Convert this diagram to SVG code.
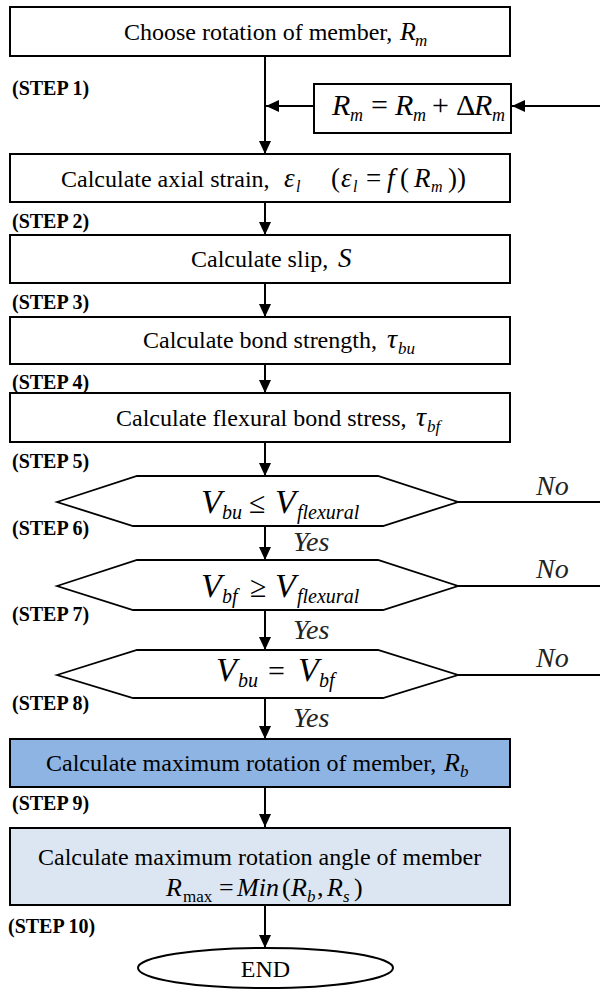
<svg xmlns="http://www.w3.org/2000/svg" width="600" height="989" viewBox="0 0 600 989">
<style>
.box{fill:#fff;stroke:#000;stroke-width:2}
.blue{fill:#8EB4E3;stroke:#000;stroke-width:2}
.light{fill:#DCE6F2;stroke:#000;stroke-width:2}
.t{font-family:"Liberation Serif","Times New Roman",serif;font-size:24px;fill:#000}
.step{font-family:"Liberation Serif","Times New Roman",serif;font-size:20px;font-weight:bold;fill:#000}
.m{font-family:"Liberation Serif","Times New Roman",serif;font-style:italic;fill:#000}
.r{font-style:normal}
.ln{fill:none;stroke:#000;stroke-width:2}
.hx{fill:#fff;stroke:#000;stroke-width:1.8}
.yn{font-family:"Liberation Serif","Times New Roman",serif;font-style:italic;font-size:28px;fill:#222}
</style>
<defs>
<marker id="ah" markerUnits="userSpaceOnUse" markerWidth="13" markerHeight="12" refX="13" refY="6" orient="auto">
<path d="M0,0 L13,6 L0,12 z" fill="#000"/>
</marker>
</defs>

<g id="connectors">
<line class="ln" x1="265" y1="56" x2="265" y2="154" marker-end="url(#ah)"/>
<line class="ln" x1="314" y1="106" x2="266" y2="106" marker-end="url(#ah)"/>
<line class="ln" x1="600" y1="106" x2="512" y2="106" marker-end="url(#ah)"/>
<line class="ln" x1="265" y1="202" x2="265" y2="235" marker-end="url(#ah)"/>
<line class="ln" x1="265" y1="283" x2="265" y2="317" marker-end="url(#ah)"/>
<line class="ln" x1="265" y1="364" x2="265" y2="393" marker-end="url(#ah)"/>
<line class="ln" x1="265" y1="442" x2="265" y2="476" marker-end="url(#ah)"/>
<line class="ln" x1="265" y1="526" x2="265" y2="560" marker-end="url(#ah)"/>
<line class="ln" x1="265" y1="610" x2="265" y2="650" marker-end="url(#ah)"/>
<line class="ln" x1="265" y1="698" x2="265" y2="739" marker-end="url(#ah)"/>
<line class="ln" x1="265" y1="787" x2="265" y2="827" marker-end="url(#ah)"/>
<line class="ln" x1="265" y1="905" x2="265" y2="948" marker-end="url(#ah)"/>
<line class="ln" x1="458" y1="502" x2="600" y2="502"/>
<line class="ln" x1="458" y1="586" x2="600" y2="586"/>
<line class="ln" x1="458" y1="675" x2="600" y2="675"/>
<text class="yn" x="536" y="495">No</text>
<text class="yn" x="536" y="578">No</text>
<text class="yn" x="536" y="667">No</text>
<text class="yn" x="293" y="551">Yes</text>
<text class="yn" x="293" y="639">Yes</text>
<text class="yn" x="293" y="727">Yes</text>
</g>

<g id="step1">
<rect class="box" x="10" y="7" width="500" height="49"/>
<text class="t" x="124" y="40">Choose rotation of member,<tspan class="m" x="400" font-size="26">R</tspan><tspan class="m" x="415" y="46" font-size="17">m</tspan></text>
<text class="step" x="12" y="95">(STEP 1)</text>
</g>

<g id="increment">
<rect class="box" x="314" y="84" width="197" height="49"/>
<text class="m" x="332" y="115" font-size="30">R<tspan x="350" y="121" font-size="18">m</tspan><tspan class="r" x="371" y="115">=</tspan><tspan x="395" y="115">R</tspan><tspan x="413" y="121" font-size="18">m</tspan><tspan class="r" x="432" y="115">+</tspan><tspan class="r" x="456" y="115">Δ</tspan><tspan x="474" y="115">R</tspan><tspan x="492" y="121" font-size="18">m</tspan></text>
</g>

<g id="step2">
<rect class="box" x="10" y="154" width="500" height="48"/>
<text class="t" x="61" y="187">Calculate axial strain,<tspan class="m" x="284" font-size="27">ε</tspan><tspan class="m" x="296" y="192" font-size="16">l</tspan><tspan x="331" y="187" font-size="27">(</tspan><tspan class="m" x="341" font-size="27">ε</tspan><tspan class="m" x="353" y="192" font-size="16">l</tspan><tspan x="366" y="187" font-size="27">=</tspan><tspan class="m" x="387" font-size="27">f</tspan><tspan x="400" font-size="27">(</tspan><tspan class="m" x="414" font-size="27">R</tspan><tspan class="m" x="431" y="192" font-size="16">m</tspan><tspan x="448" y="187" font-size="27">))</tspan></text>
<text class="step" x="12" y="228">(STEP 2)</text>
</g>

<g id="step3">
<rect class="box" x="10" y="235" width="500" height="48"/>
<text class="t" x="191" y="267">Calculate slip,<tspan class="m" x="338" font-size="27">S</tspan></text>
<text class="step" x="12" y="309">(STEP 3)</text>
</g>

<g id="step4">
<rect class="box" x="10" y="317" width="500" height="47"/>
<text class="t" x="143" y="348">Calculate bond strength,<tspan class="m" x="387" font-size="28">τ</tspan><tspan class="m" x="398" y="354" font-size="17">bu</tspan></text>
<text class="step" x="12" y="389">(STEP 4)</text>
</g>

<g id="step5">
<rect class="box" x="10" y="393" width="500" height="49"/>
<text class="t" x="116" y="426">Calculate flexural bond stress,<tspan class="m" x="416" font-size="28">τ</tspan><tspan class="m" x="427" y="432" font-size="17">bf</tspan></text>
<text class="step" x="12" y="468">(STEP 5)</text>
</g>

<g id="step6">
<polygon class="hx" points="57,502 137,476 378,476 458,502 383,526 133,526"/>
<text class="m" x="201" y="513" font-size="34">V<tspan x="222" y="519" font-size="20">bu</tspan><tspan class="r" x="249" y="513" font-size="30">≤</tspan><tspan x="275" y="513">V</tspan><tspan x="297" y="519" font-size="20">flexural</tspan></text>
<text class="step" x="12" y="535">(STEP 6)</text>
</g>

<g id="step7">
<polygon class="hx" points="57,586 137,560 378,560 458,586 383,610 133,610"/>
<text class="m" x="201" y="597" font-size="34">V<tspan x="222" y="603" font-size="20">bf</tspan><tspan class="r" x="250" y="597" font-size="30">≥</tspan><tspan x="275" y="597">V</tspan><tspan x="297" y="603" font-size="20">flexural</tspan></text>
<text class="step" x="12" y="621">(STEP 7)</text>
</g>

<g id="step8">
<polygon class="hx" points="57,675 137,650 378,650 458,675 383,698 133,698"/>
<text class="m" x="216" y="681" font-size="34">V<tspan x="238" y="687" font-size="20">bu</tspan><tspan class="r" x="268" y="681" font-size="30">=</tspan><tspan x="298" y="681">V</tspan><tspan x="319" y="687" font-size="20">bf</tspan></text>
<text class="step" x="12" y="710">(STEP 8)</text>
</g>

<g id="step9">
<rect class="blue" x="10" y="739" width="500" height="48"/>
<text class="t" x="46" y="771">Calculate maximum rotation of member,<tspan class="m" x="444" font-size="26">R</tspan><tspan class="m" x="460" y="777" font-size="17">b</tspan></text>
<text class="step" x="12" y="810">(STEP 9)</text>
</g>

<g id="step10">
<rect class="light" x="10" y="828" width="500" height="77"/>
<text class="t" x="38" y="865">Calculate maximum rotation angle of member</text>
<text class="m" x="166" y="896" font-size="26">R<tspan class="r" x="183" y="902" font-size="17">max</tspan><tspan class="r" x="219" y="896">=</tspan><tspan x="237" y="896">Min</tspan><tspan class="r" x="282" y="896">(</tspan><tspan x="291" y="896">R</tspan><tspan x="307" y="902" font-size="17">b</tspan><tspan class="r" x="317" y="896">,</tspan><tspan x="327" y="896">R</tspan><tspan x="343" y="902" font-size="17">s</tspan><tspan class="r" x="354" y="896">)</tspan></text>
<text class="step" x="8" y="933">(STEP 10)</text>
</g>

<g id="end">
<ellipse class="box" cx="265.5" cy="968" rx="127.5" ry="20"/>
<text class="t" x="265.5" y="977" font-size="23" text-anchor="middle">END</text>
</g>
</svg>
